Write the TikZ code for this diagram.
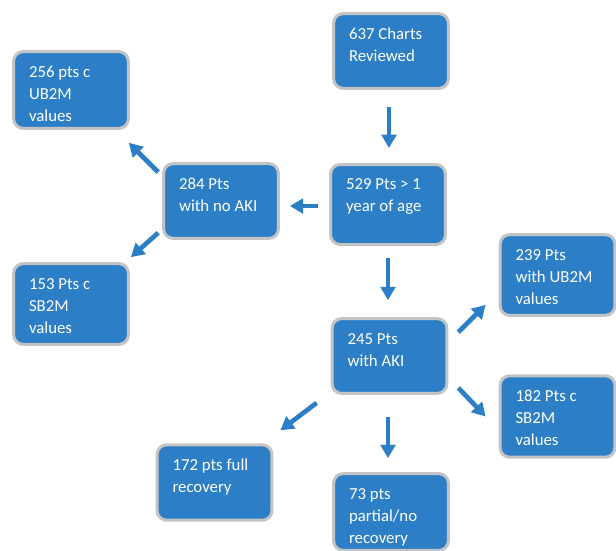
\documentclass[tikz,border=0pt]{standalone}
\usepackage{fontspec}
\setmainfont{Carlito}
\usetikzlibrary{arrows.meta, positioning}
\definecolor{boxblue}{RGB}{44,127,198}
\definecolor{boxgray}{RGB}{196,196,196}
\newcommand{\boxtxt}[2][41pt]{\parbox[c][#1][t]{63pt}{\raggedright\strut #2}}
\tikzset{
  box/.style={rectangle,draw=boxgray,fill=boxblue,text=white,rounded corners=7pt,
    line width=2.25pt,inner xsep=11.5pt,inner ysep=7.5pt,
    font=\fontsize{12.6}{16.5}\selectfont},
  line/.style={-{Triangle[length=10pt,width=11pt]},draw=boxblue,line width=3.5pt}
}

\begin{document}
\begin{tikzpicture}[x=0.75pt,y=-0.75pt]
\useasboundingbox (0,0) rectangle (616,550);
\node[box] (charts) at (391,51) {\boxtxt{637 Charts\\Reviewed}};
\node[box] (older) at (388,204.5) {\boxtxt[45pt]{529 Pts > 1\\year of age}};
\node[box] (noaki) at (221,201) {\boxtxt{284 Pts\\with no AKI}};
\node[box] (ubleft) at (71,90) {\boxtxt[42.5pt]{256 pts c\\UB2M\\values}};
\node[box] (sbleft) at (71,304) {\boxtxt[45.5pt]{153 Pts c\\SB2M\\values}};
\node[box] (aki) at (389.5,356) {\boxtxt{245 Pts\\with AKI}};
\node[box] (ubright) at (557.5,275) {\boxtxt[45.5pt]{239 Pts\\with UB2M\\values}};
\node[box] (sbright) at (557.5,416.5) {\boxtxt[46pt]{182 Pts c\\SB2M\\values}};
\node[box] (full) at (214.5,482.5) {\boxtxt[41.5pt]{172 pts full\\recovery}};
\node[box] (partial) at (391,512) {\boxtxt[42.5pt]{73 pts\\partial/no\\recovery}};
\draw[line,shorten <=12.75pt,shorten >=11.25pt] ([shift={(-2,0)}]charts.south) -- ([shift={(-2,0)}]charts.south |- older.north);
\draw[line,shorten <=8.25pt,shorten >=7.5pt] ([shift={(0,1.5)}]older.west) -- ([shift={(0,5)}]noaki.east);
\draw[line] ([shift={(-4,10)}]noaki.north west) -- ([shift={(-1,13)}]ubleft.south east);
\draw[line] ([shift={(-4,-7)}]noaki.south west) -- ([shift={(1,-5)}]sbleft.north east);
\draw[line,shorten <=9pt,shorten >=12.75pt] (older.south) -- (older.south |- aki.north);
\draw[line] ([shift={(10,15)}]aki.north east) -- ([shift={(-13,-12)}]ubright.south west);
\draw[line] ([shift={(10,-7)}]aki.south east) -- ([shift={(-13,0)}]sbright.west);
\draw[line] ([shift={(-14,8)}]aki.south west) -- ([shift={(7,-13)}]full.north east);
\draw[line,shorten <=16.5pt,shorten >=10.5pt] ([shift={(-1.5,0)}]aki.south) -- ([shift={(-1.5,0)}]aki.south |- partial.north);
\end{tikzpicture}
\end{document}
